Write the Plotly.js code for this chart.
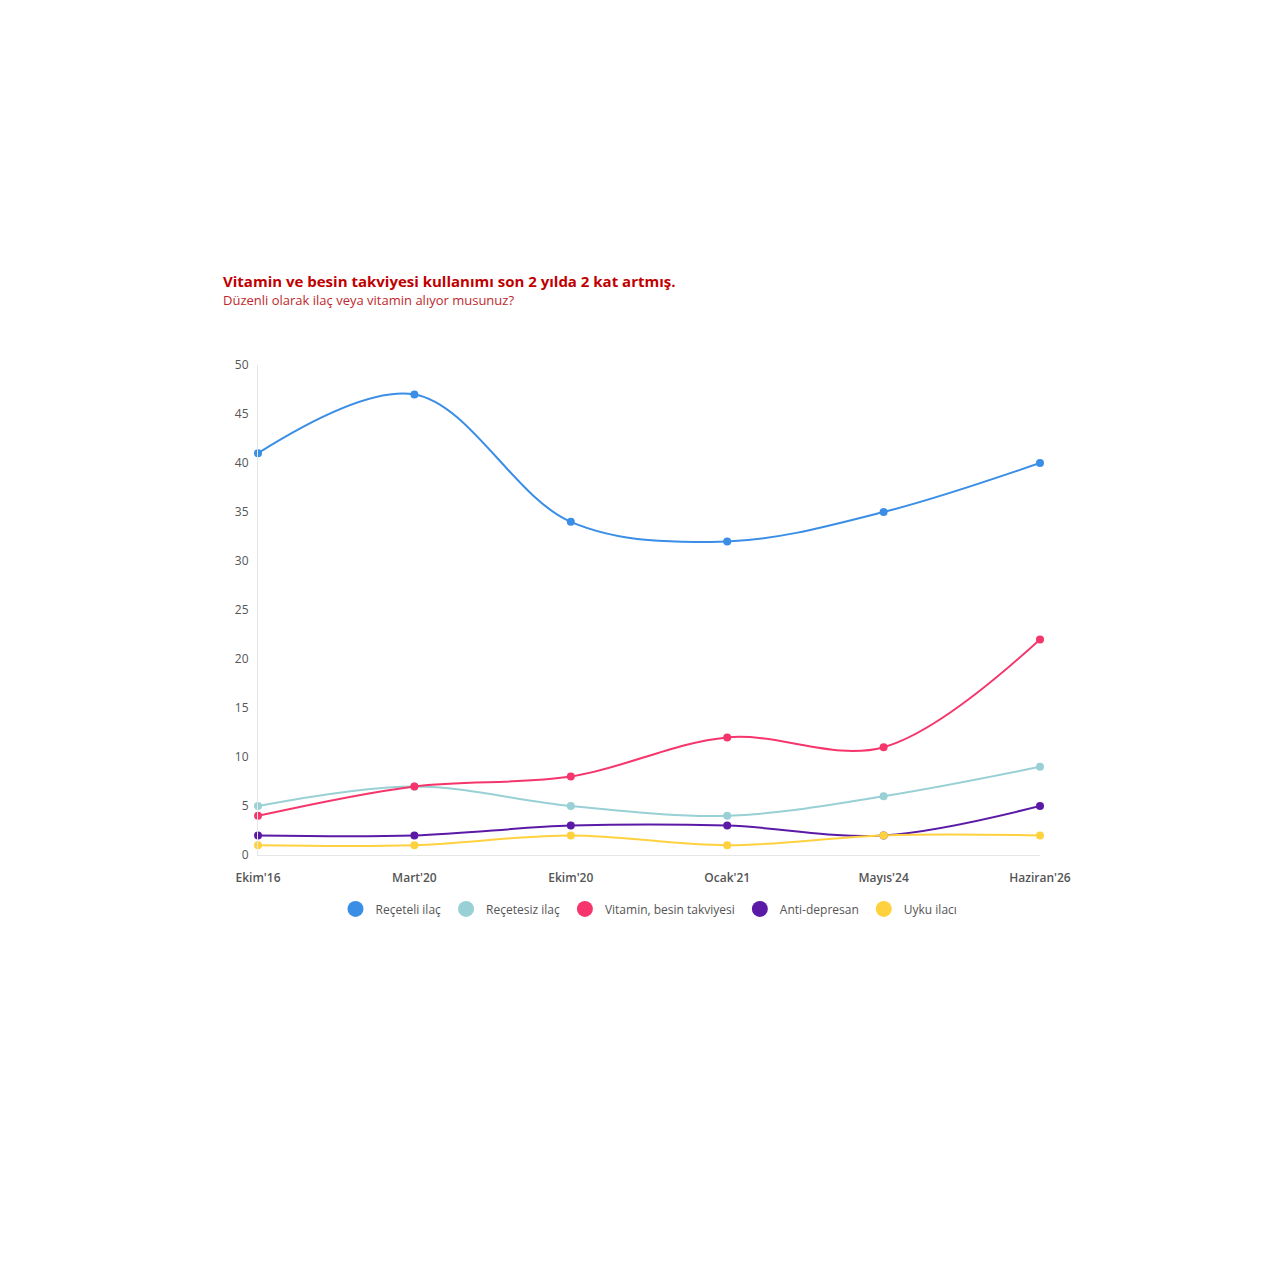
<!DOCTYPE html>
<html>
<head>
<meta charset="utf-8">
<script src="https://cdn.plot.ly/plotly-3.0.1.min.js"></script>
<style>
  html, body { margin: 0; padding: 0; background: #fff; }
  #chart { width: 1280px; height: 1280px; }
</style>
</head>
<body>
<div id="chart"></div>
<script>
// Survey waves
const periods = ["Ekim'16", "Mart'20", "Ekim'20", "Ocak'21", "Mayıs'24", "Haziran'26"];

// Share of respondents (%)
const receteli = [41, 47, 34, 32, 35, 40];
const recetesiz = [5, 7, 5, 4, 6, 9];
const vitamin = [4, 7, 8, 12, 11, 22];
const antiDepresan = [2, 2, 3, 3, 2, 5];
const uyku = [1, 1, 2, 1, 2, 2];

const seriesNames = ['Reçeteli ilaç', 'Reçetesiz ilaç', 'Vitamin, besin takviyesi', 'Anti-depresan', 'Uyku ilacı'];
const seriesValues = [receteli, recetesiz, vitamin, antiDepresan, uyku];
const seriesColors = ['#3a8ee6', '#98d0d5', '#f5356b', '#5b1aa6', '#ffd13f'];

const fontFamily = '"Open Sans", "Noto Sans", sans-serif';

// Drawn lines (legend hidden, shown by marker-only entries below)
const lineTraces = seriesValues.map((vals, i) => ({
    x: periods,
    y: vals,
    type: 'scatter',
    mode: 'lines+markers',
    name: seriesNames[i],
    showlegend: false,
    cliponaxis: false,
    line: { color: seriesColors[i], width: 2, shape: 'spline', smoothing: 1 },
    marker: { color: seriesColors[i], size: 8 },
    hoverinfo: 'x+y+name'
}));

// Legend entries: big round dots only
const legendTraces = seriesNames.map((name, i) => ({
    x: [null],
    y: [null],
    type: 'scatter',
    mode: 'markers',
    name: name,
    marker: { color: seriesColors[i], size: 18 },
    hoverinfo: 'skip'
}));

const layout = {
    width: 1280,
    height: 1280,
    paper_bgcolor: '#ffffff',
    plot_bgcolor: '#ffffff',
    margin: { l: 258, r: 240, t: 365, b: 425 },
    font: { family: fontFamily, color: '#555555', size: 12 },
    xaxis: {
        type: 'category',
        range: [0, 5],
        showgrid: false,
        zeroline: false,
        showline: true,
        linecolor: '#e6e6e6',
        linewidth: 1,
        ticks: '',
        tickfont: { size: 12, color: '#555555', family: fontFamily, weight: 600 },
        ticklabelstandoff: 12
    },
    yaxis: {
        range: [0, 50],
        dtick: 5,
        showgrid: false,
        zeroline: false,
        showline: true,
        linecolor: '#e6e6e6',
        linewidth: 1,
        ticks: '',
        tickfont: { size: 12, color: '#555555', family: fontFamily },
        ticklabelstandoff: 6
    },
    showlegend: true,
    legend: {
        orientation: 'h',
        x: 0.5,
        xanchor: 'center',
        y: -0.11,
        yanchor: 'middle',
        font: { size: 12, color: '#555555', family: fontFamily },
        itemwidth: 30,
        tracegroupgap: 0
    },
    annotations: [
        {
            xref: 'paper', yref: 'paper',
            x: (221 - 258) / 782, y: (855 - 281) / 490,
            xanchor: 'left', yanchor: 'middle',
            showarrow: false,
            text: '<b>Vitamin ve besin takviyesi kullanımı son 2 yılda 2 kat artmış.</b>',
            font: { size: 15, color: '#c00000', family: fontFamily }
        },
        {
            xref: 'paper', yref: 'paper',
            x: (221 - 258) / 782, y: (855 - 300) / 490,
            xanchor: 'left', yanchor: 'middle',
            showarrow: false,
            text: 'Düzenli olarak ilaç veya vitamin alıyor musunuz?',
            font: { size: 13, color: '#c0282d', family: fontFamily }
        }
    ]
};

Plotly.newPlot('chart', lineTraces.concat(legendTraces), layout, { displayModeBar: false, responsive: false });
</script>
</body>
</html>
